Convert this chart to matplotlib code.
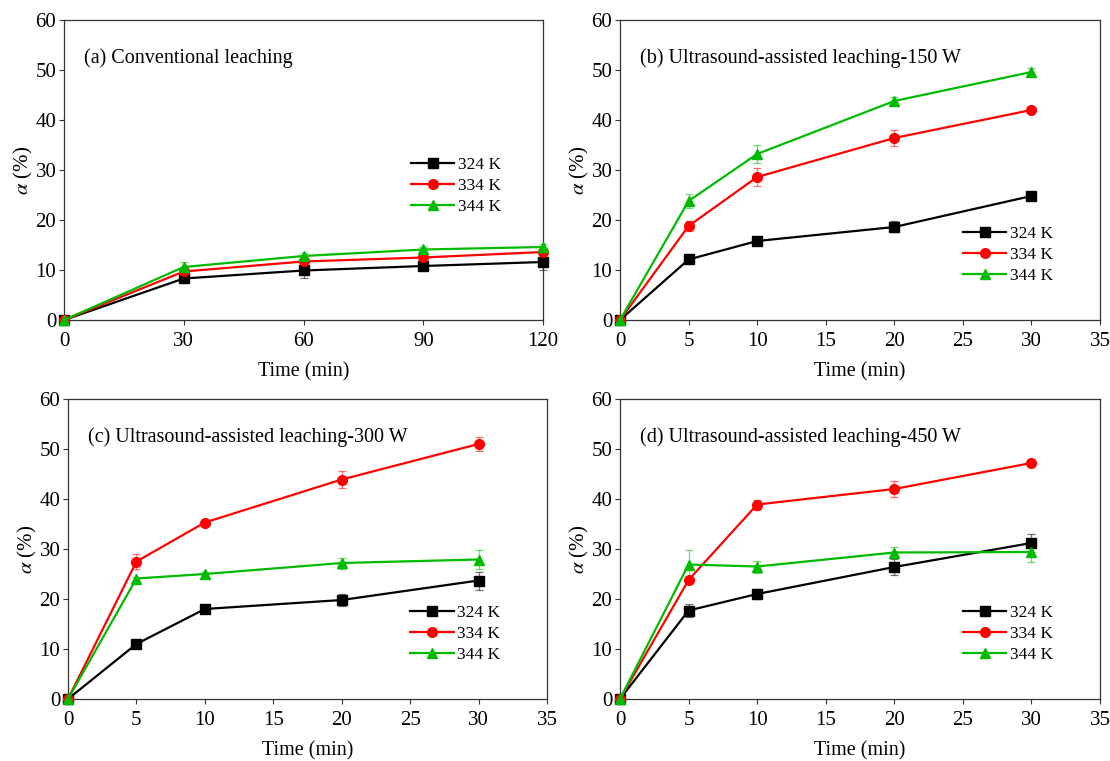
import matplotlib.pyplot as plt

plt.rcParams["font.family"] = ["Liberation Serif", "DejaVu Serif"]
plt.rcParams["mathtext.fontset"] = "stix"

temps = ["324 K", "334 K", "344 K"]
colors = ["#000000", "#ff0000", "#00bb00"]
markers = ["s", "o", "^"]

titles = [
    "(a) Conventional leaching",
    "(b) Ultrasound-assisted leaching-150 W",
    "(c) Ultrasound-assisted leaching-300 W",
    "(d) Ultrasound-assisted leaching-450 W",
]

time_a = [0, 30, 60, 90, 120]
time_us = [0, 5, 10, 20, 30]

# (a) conventional
a_324 = [0, 8.3, 9.9, 10.8, 11.6]
a_334 = [0, 9.7, 11.7, 12.5, 13.6]
a_344 = [0, 10.6, 12.8, 14.1, 14.6]
a_324_err = [0, 0.5, 1.5, 0.5, 1.6]
a_334_err = [0, 0.5, 0.6, 0.5, 0.5]
a_344_err = [0, 0.9, 0.5, 0.5, 0.5]

# (b) 150 W
b_324 = [0, 12.1, 15.8, 18.6, 24.8]
b_334 = [0, 18.8, 28.6, 36.4, 42.0]
b_344 = [0, 23.8, 33.2, 43.8, 49.6]
b_324_err = [0, 0.5, 0.5, 1.1, 0.5]
b_334_err = [0, 1.0, 1.8, 1.6, 0.5]
b_344_err = [0, 1.4, 1.8, 0.9, 0.9]

# (c) 300 W
c_324 = [0, 11.0, 18.0, 19.8, 23.7]
c_334 = [0, 27.5, 35.3, 43.9, 51.0]
c_344 = [0, 24.1, 25.0, 27.2, 27.9]
c_324_err = [0, 0.4, 0.4, 1.2, 1.8]
c_334_err = [0, 1.5, 0.4, 1.7, 1.4]
c_344_err = [0, 0.4, 0.4, 1.1, 1.9]

# (d) 450 W
d_324 = [0, 17.7, 21.0, 26.4, 31.2]
d_334 = [0, 23.8, 38.9, 42.0, 47.2]
d_344 = [0, 26.9, 26.5, 29.3, 29.4]
d_324_err = [0, 1.3, 1.0, 1.6, 1.8]
d_334_err = [0, 0.5, 1.0, 1.6, 0.4]
d_344_err = [0, 2.9, 1.2, 1.1, 1.9]

panels = [
    (time_a, [a_324, a_334, a_344], [a_324_err, a_334_err, a_344_err]),
    (time_us, [b_324, b_334, b_344], [b_324_err, b_334_err, b_344_err]),
    (time_us, [c_324, c_334, c_344], [c_324_err, c_334_err, c_344_err]),
    (time_us, [d_324, d_334, d_344], [d_324_err, d_334_err, d_344_err]),
]

# axes rectangles in pixels (left, top, right, bottom)
W, H = 1110, 761
boxes = [(64, 20, 543, 320), (620, 20, 1100, 320), (68, 399, 547, 699), (620, 399, 1100, 699)]
legend_pos = [(0.71, 0.568), (0.70, 0.338), (0.70, 0.338), (0.70, 0.338)]

fig = plt.figure(figsize=(W / 100, H / 100), dpi=100)

for i, (x, series, errs) in enumerate(panels):
    l, t, r, b = boxes[i]
    ax = fig.add_axes([l / W, 1 - b / H, (r - l) / W, (b - t) / H])
    handles = []
    for ys, es, c, m, lab in zip(series, errs, colors, markers, temps):
        ax.errorbar(x, ys, yerr=es, fmt="none", ecolor=c, alpha=0.55,
                    elinewidth=0.9, capsize=3, capthick=0.9, clip_on=False)
        ln, = ax.plot(x, ys, color=c, marker=m, markersize=7, linewidth=1.6,
                      label=lab, clip_on=False, zorder=3)
        handles.append(ln)
    if i == 0:
        ax.set_xlim(0, 120)
        ax.set_xticks([0, 30, 60, 90, 120])
    else:
        ax.set_xlim(0, 35)
        ax.set_xticks(range(0, 36, 5))
    ax.set_ylim(0, 60)
    ax.set_yticks(range(0, 61, 10))
    ax.tick_params(direction="out", labelsize=15, length=3.5, width=0.8, colors="#333333",
                   labelcolor="black", top=False, right=False)
    ax.tick_params(axis="x", pad=5)
    ax.tick_params(axis="y", pad=2)
    for sp in ax.spines.values():
        sp.set_color("#333333")
        sp.set_linewidth(0.9)
    ax.set_xlabel("Time (min)", fontsize=14.5, labelpad=8)
    ax.set_ylabel(r"$\alpha$ (%)", fontsize=15, labelpad=0)
    ax.text(0.042, 0.873, titles[i], transform=ax.transAxes, fontsize=14.5, va="center", ha="left")
    ax.legend(handles=handles, loc="upper left", bbox_to_anchor=legend_pos[i], frameon=False,
              fontsize=12.5, handlelength=2.5, handletextpad=0.2, labelspacing=0.3, borderaxespad=0)

fig.savefig("out.png", dpi=100)
plt.close(fig)
